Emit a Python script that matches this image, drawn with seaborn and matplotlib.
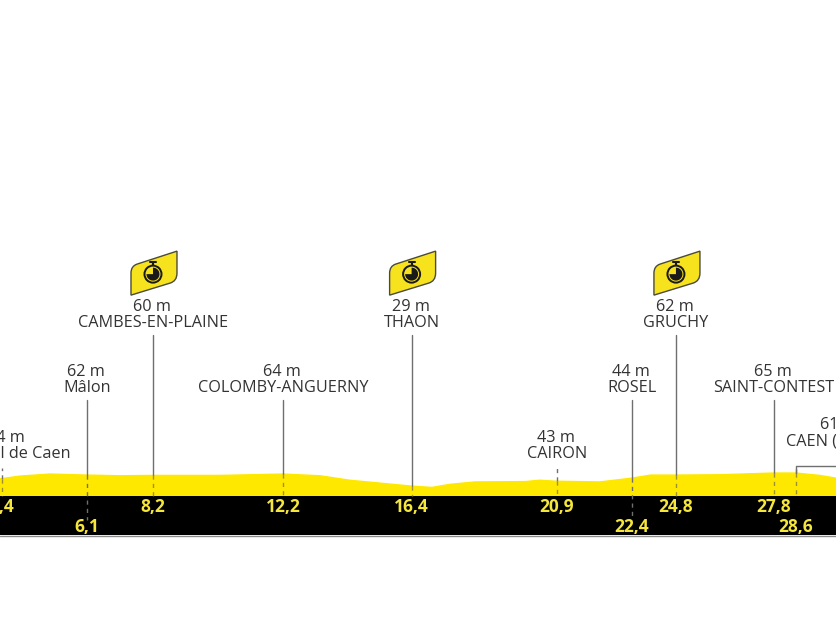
import matplotlib
matplotlib.use("Agg")
import matplotlib.pyplot as plt
from matplotlib.patches import Circle, PathPatch, Wedge
from matplotlib.path import Path
from matplotlib.transforms import Affine2D
import seaborn as sns

# elevation profile
profile_km = [3.37, 4.0, 4.95, 6.12, 7.16, 8.2, 10.3, 12.3, 13.47, 14.4, 16.34, 17.0, 17.57,
              18.36, 19.94, 20.4, 20.94, 22.3, 23.3, 23.9, 24.7, 26.1, 27.79, 28.48, 29.24, 29.75]
profile_m = [50, 58, 64, 61, 59, 60, 60, 64, 59, 46, 29, 25, 34,
             41, 42, 46, 43, 41, 52, 61, 61, 62, 67, 67, 60, 52]

# points along the route
place_names = ["Canal de Caen", "Mâlon", "CAMBES-EN-PLAINE", "COLOMBY-ANGUERNY", "THAON", "CAIRON",
               "ROSEL", "GRUCHY", "SAINT-CONTEST", "CAEN ("]
place_elev = ["54 m", "62 m", "60 m", "64 m", "29 m", "43 m", "44 m", "62 m", "65 m", "61 m"]
place_km = [3.44, 6.12, 8.2, 12.3, 16.36, 20.94, 23.3, 24.7, 27.79, 28.48]
km_labels = ["3,4", "6,1", "8,2", "12,2", "16,4", "20,9", "22,4", "24,8", "27,8", "28,6"]
km_row = [0, 1, 0, 0, 0, 0, 1, 0, 0, 1]
stem_level = [0, 1, 2, 1, 2, 0, 1, 2, 1, 0]
has_timer = [False, False, True, False, True, False, False, True, False, False]

sns.set_theme(style="white")
plt.rcParams["font.family"] = ["Open Sans", "DejaVu Sans"]

fig = plt.figure(figsize=(8.36, 6.28), dpi=100)
ax = fig.add_axes([0, 0, 1, 1])
ax.set_xlim(3.373, 29.75)
ax.set_ylim(-384.8, 1446)
ax.axis("off")

YELLOW = "#ffe800"
LABEL_YELLOW = "#f5e63c"
STEM = "#6f6f6f"
TEXT = "#333333"
stem_tops = [87, 280, 469]
row_y = [-32, -90]

ax.fill_between(profile_km, 0, profile_m, color=YELLOW, lw=0, zorder=1)
sns.lineplot(x=profile_km, y=profile_m, color=YELLOW, lw=1, ax=ax, zorder=1, legend=False)
ax.axhspan(-115, 0, color="black", lw=0, zorder=2)
ax.axhline(-118, color="#8a8a8a", lw=1, zorder=2)


def draw_timer(km, top):
    # flag icon, drawn in pixels around the top of the stem
    cx, cy = ax.transData.transform((km, top))
    tr = Affine2D().translate(cx, cy)
    verts = [(-22, 40), (-22, 62), (-22, 69), (-16, 71), (24, 84), (24, 62), (24, 54), (17, 52), (-22, 40), (-22, 40)]
    codes = [Path.MOVETO, Path.LINETO, Path.CURVE3, Path.CURVE3, Path.LINETO, Path.LINETO,
             Path.CURVE3, Path.CURVE3, Path.LINETO, Path.CLOSEPOLY]
    ax.add_patch(PathPatch(Path(verts, codes), fc="#f7e21e", ec="#4a4a3a", lw=1, transform=tr, zorder=5))
    ax.add_patch(Circle((0, 61), 9.5, fc="#1a1a1a", ec="none", transform=tr, zorder=6))
    ax.add_patch(Circle((0, 61), 7.5, fc="#f7e21e", ec="none", transform=tr, zorder=7))
    ax.add_patch(Wedge((0, 61), 6.5, 180, 90, fc="#1a1a1a", ec="none", transform=tr, zorder=8))
    ax.plot([-3, 3], [73, 73], color="#1a1a1a", lw=1.5, transform=tr, zorder=6)
    ax.plot([0, 0], [70, 73], color="#1a1a1a", lw=1.5, transform=tr, zorder=6)


for i, km in enumerate(place_km):
    top = stem_tops[stem_level[i]]
    elev = profile_m[min(range(len(profile_km)), key=lambda j: abs(profile_km[j] - km))]
    dash_end = -70 if km_row[i] == 1 and i != 9 else 0

    # the first stop and Cairon only have a short dashed tick
    if stem_level[i] > 0:
        ax.plot([km, km], [elev, top], color=STEM, lw=1, zorder=3)
    else:
        ax.plot([km, km], [elev, top - 5], color=STEM, lw=1, ls=(0, (3, 3)), zorder=3)
    ax.plot([km, km], [elev, dash_end], color="#a08f30" if dash_end == 0 else STEM, lw=1, ls=(0, (3, 3)), zorder=3)

    name_off, ha = 0, "center"
    if i == 0:
        name_off, ha = 69, "right"
    name_up, elev_up = 12, 28
    if i == 9:
        name_off, ha = -10, "left"
        name_up, elev_up = 25, 41
    ax.annotate(place_names[i], (km, top), xytext=(name_off * 0.72, name_up * 0.72), textcoords="offset points",
                ha=ha, va="center", fontsize=11.7, color=TEXT, zorder=4)
    elev_off, elev_ha = -1, "center"
    if i == 0:
        elev_off = 4
    if i == 9:
        elev_off, elev_ha = 24, "left"
    ax.annotate(place_elev[i], (km, top), xytext=(elev_off * 0.72, elev_up * 0.72), textcoords="offset points",
                ha=elev_ha, va="center", fontsize=11.7, color=TEXT, zorder=4)
    ax.text(km, row_y[km_row[i]], km_labels[i], ha="center", va="center", fontsize=12.5,
            fontweight="bold", color=LABEL_YELLOW, zorder=4)
    if has_timer[i]:
        draw_timer(km, top)

# finish bracket runs off the right edge
ax.plot([place_km[9], place_km[9], 29.75], [67, stem_tops[0], stem_tops[0]], color=STEM, lw=1, zorder=3)

fig.savefig("out.png", dpi=100)
